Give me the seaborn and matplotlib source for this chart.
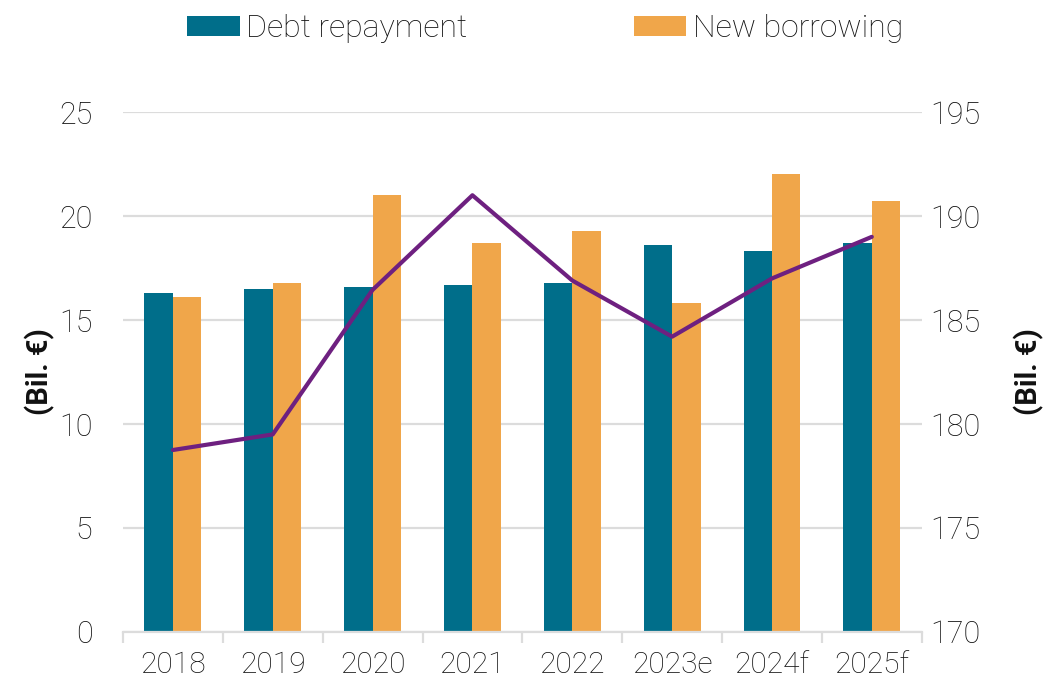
import numpy as np
import pandas as pd
import matplotlib
matplotlib.use("Agg")
import matplotlib.pyplot as plt
from matplotlib.ticker import MultipleLocator, FixedLocator
import seaborn as sns

# Annual figures, billions of euro
years = ["2018", "2019", "2020", "2021", "2022", "2023e", "2024f", "2025f"]
debt_repayment = [16.3, 16.5, 16.6, 16.7, 16.8, 18.6, 18.3, 18.7]
new_borrowing = [16.1, 16.8, 21.0, 18.7, 19.3, 15.8, 22.0, 20.7]
total_debt = [178.75, 179.5, 186.45, 191.0, 186.9, 184.2, 187.0, 189.0]

teal = "#006E8A"
orange = "#F0A64A"
purple = "#6E2080"
grid_grey = "#DCDCDC"
text_col = "#111111"

sns.set_theme(style="white")
plt.rcParams["font.family"] = ["Roboto", "DejaVu Sans"]
plt.rcParams["font.weight"] = "light"

df = pd.DataFrame({
    "year": years * 2,
    "value": debt_repayment + new_borrowing,
    "series": ["Debt repayment"] * len(years) + ["New borrowing"] * len(years),
})

fig = plt.figure(figsize=(10.51, 6.85), dpi=100)
ax = fig.add_axes([0.117, 0.0774, 0.760, 0.759])

sns.barplot(data=df, x="year", y="value", hue="series",
            palette=[teal, orange], width=0.57, saturation=1,
            linewidth=0, ax=ax, zorder=2)

ax.set_ylim(0, 25)
ax.set_xlim(-0.5, len(years) - 0.5)
ax.yaxis.set_major_locator(MultipleLocator(5))
ax.grid(axis="y", color=grid_grey, linewidth=1.6, zorder=0)
ax.set_axisbelow(True)
for s in ["left", "right", "top"]:
    ax.spines[s].set_visible(False)
ax.spines["bottom"].set_color(grid_grey)
ax.spines["bottom"].set_linewidth(1.6)

ax.tick_params(axis="y", length=0, pad=22, labelsize=22, labelcolor=text_col)
ax.tick_params(axis="x", which="major", length=0, pad=14, labelsize=21.5,
               labelcolor=text_col)
ax.xaxis.set_minor_locator(FixedLocator(np.arange(-0.5, len(years), 1.0)))
ax.tick_params(axis="x", which="minor", bottom=True, length=8, width=1.6,
               color=grid_grey)
ax.set_xlabel("")
ax.set_ylabel("(Bil. €)", fontsize=21, fontweight="bold", labelpad=3,
              color=text_col)

ax2 = ax.twinx()
sns.lineplot(x=np.arange(len(years)), y=total_debt, color=purple,
             linewidth=3, ax=ax2, zorder=3)
ax2.set_ylim(170, 195)
ax2.yaxis.set_major_locator(MultipleLocator(5))
for s in ["left", "right", "top", "bottom"]:
    ax2.spines[s].set_visible(False)
ax2.tick_params(axis="y", length=0, pad=6, labelsize=22, labelcolor=text_col)
ax2.set_ylabel("(Bil. €)", fontsize=21, fontweight="bold", labelpad=24,
               rotation=90, color=text_col)
ax2.grid(False)

handles, labels = ax.get_legend_handles_labels()
ax.legend_.remove()
fig.legend(handles, labels, loc="center", bbox_to_anchor=(0.5186, 0.958),
           ncol=2, frameon=False, fontsize=23, handlelength=1.65,
           handleheight=0.6, handletextpad=0.2, columnspacing=5.2,
           labelcolor=text_col)

fig.savefig("out.png", dpi=100)
